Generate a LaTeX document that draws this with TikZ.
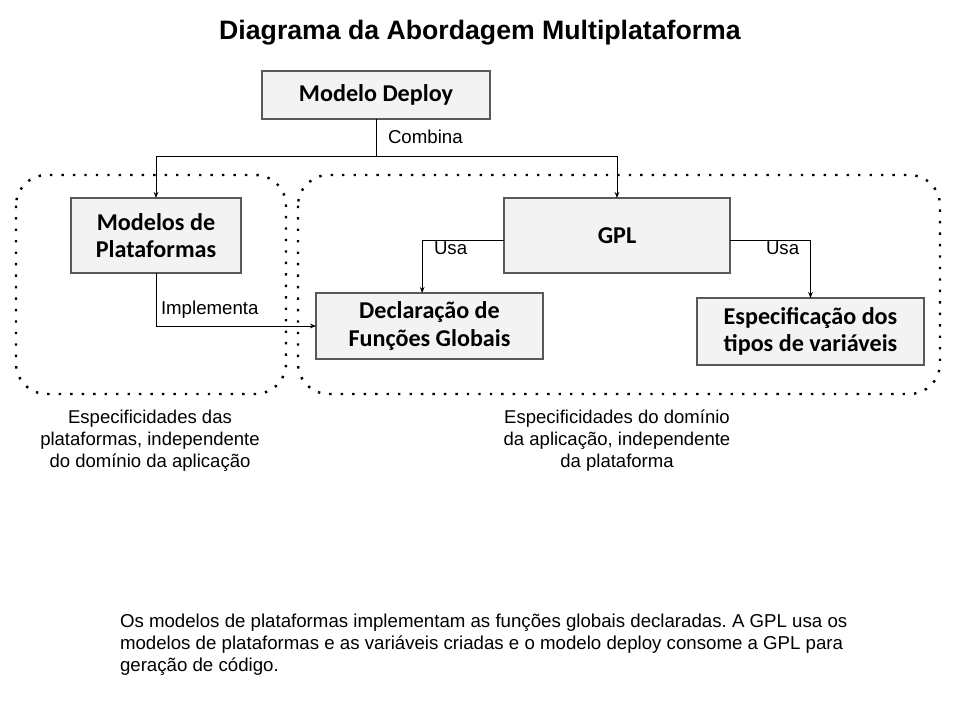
\documentclass[tikz,border=0pt]{standalone}
\usepackage{fontspec}
\setmainfont{Liberation Sans}
\newfontfamily\boxfont{Carlito}
\usetikzlibrary{arrows.meta,positioning}
\definecolor{boxfill}{HTML}{F3F3F3}
\definecolor{boxline}{HTML}{595959}
\frenchspacing
\begin{document}
\begin{tikzpicture}[x=0.75pt,y=-0.75pt,
  every node/.style={inner sep=0pt, outer sep=0pt},
  blk/.style={draw=boxline, line width=0.8pt, fill=boxfill, align=center,
    font=\boxfont\bfseries\fontsize{18.1}{20.7}\selectfont},
  lbl/.style={font=\fontsize{14}{16}\selectfont, anchor=west},
  captxt/.style={font=\fontsize{13.9}{16.5}\selectfont, align=center},
  conn/.style={line width=0.75pt, -{Stealth[length=4.5pt,width=3.5pt]}},
  plainline/.style={line width=0.75pt},
  grp/.style={line width=1.8pt, dash pattern=on 1.8pt off 6.8pt, rounded corners=23pt}
]
\useasboundingbox (0,0) rectangle (960,720);
\fill[white] (0,0) rectangle (960,720);

% title
\node[font=\bfseries\fontsize{20}{24}\selectfont] (title) at (480,33) {Diagrama da Abordagem Multiplataforma};

% dotted groups
\draw[grp] (16,175) rectangle (286,394);
\draw[grp] (298,175) rectangle (940,394);

% boxes
\node[blk, minimum width=228*0.75pt, minimum height=48*0.75pt] (md) at (376,95) {Modelo Deploy};
\node[blk, minimum width=170*0.75pt, minimum height=75*0.75pt] (mp) at (156,235.5) {Modelos de\\Plataformas};
\node[blk, minimum width=226*0.75pt, minimum height=75*0.75pt] (gpl) at (617,235.5) {GPL};
\node[blk, minimum width=227*0.75pt, minimum height=66*0.75pt] (decl) at (429.5,326) {Declaração de\\Funções Globais};
\node[blk, minimum width=227*0.75pt, minimum height=67*0.75pt] (espec) at (810.5,331.5) {Especificação dos\\tipos de variáveis};

% connectors
\draw[plainline] (md.south) -- ++(0,38) coordinate (cj);
\draw[conn] (cj) -| (mp.north);
\draw[conn] (cj) -| (gpl.north);
\draw[conn] (mp.south) |- (decl.west);
\draw[conn] ([yshift=-3.4pt]gpl.west) -| ([xshift=-5.5pt]decl.north);
\draw[conn] ([yshift=-3.4pt]gpl.east) -| (espec.north);

% labels
\node[lbl] (lcomb) at (388,137) {Combina};
\node[lbl] (limp) at (161,310) {Implementa};
\node[lbl] (lusa1) at (434,248) {Usa};
\node[lbl] (lusa2) at (766,248) {Usa};

% captions
\node[captxt] (capl) at (150,441) {Especificidades das\\plataformas, independente\\do domínio da aplicação};
\node[captxt] (capr) at (617,441) {Especificidades do domínio\\da aplicação, independente\\da plataforma};

% bottom text
\node[font=\fontsize{14}{16.5}\selectfont, align=left, anchor=north west] (note) at (120,614)
  {Os modelos de plataformas implementam as funções globais declaradas. A GPL usa os\\modelos de plataformas e as variáveis criadas e o modelo deploy consome a GPL para\\geração de código.};
\end{tikzpicture}
\end{document}
